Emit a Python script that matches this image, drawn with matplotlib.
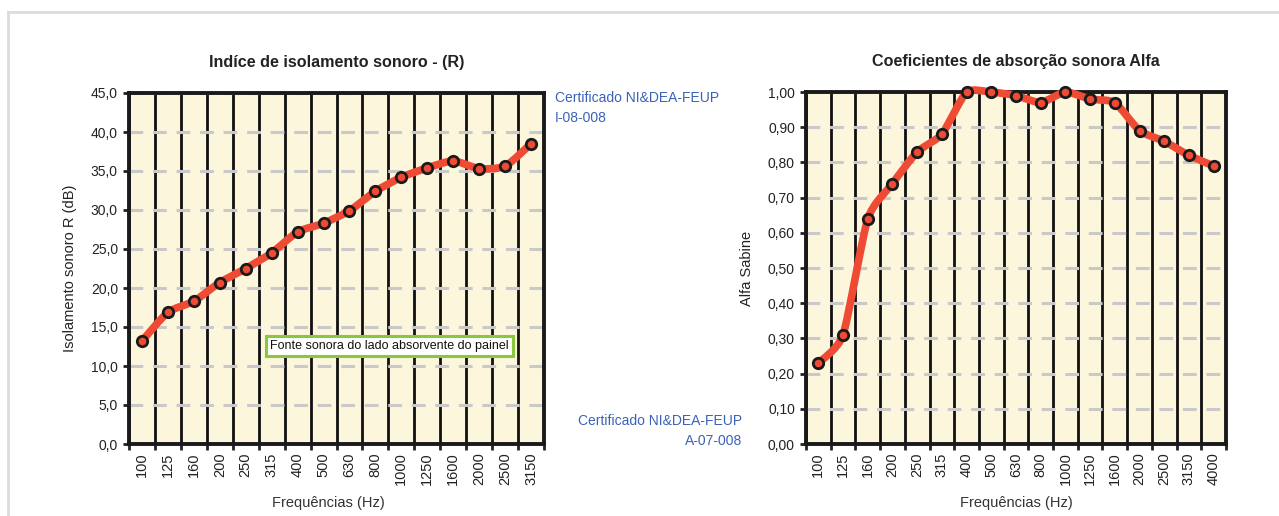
import matplotlib
matplotlib.use("Agg")
import matplotlib.pyplot as plt
from matplotlib.path import Path
from matplotlib.patches import PathPatch
from matplotlib.lines import Line2D
from matplotlib import font_manager as fm

# ---------------- data ----------------
freq_r = ["100", "125", "160", "200", "250", "315", "400", "500", "630", "800",
          "1000", "1250", "1600", "2000", "2500", "3150"]
r_values = [13.2, 16.9, 18.3, 20.7, 22.5, 24.5, 27.2, 28.3, 29.9, 32.4,
            34.2, 35.4, 36.3, 35.3, 35.6, 38.5]
r_ticks = [0, 5, 10, 15, 20, 25, 30, 35, 40, 45]
r_ticklabels = ["0,0", "5,0", "10,0", "15,0", "20,0", "25,0", "30,0", "35,0", "40,0", "45,0"]

freq_a = ["100", "125", "160", "200", "250", "315", "400", "500", "630", "800",
          "1000", "1250", "1600", "2000", "2500", "3150", "4000"]
a_values = [0.23, 0.31, 0.64, 0.74, 0.83, 0.88, 1.00, 1.00, 0.99, 0.97,
            1.00, 0.98, 0.97, 0.89, 0.86, 0.82, 0.79]
a_ticks = [0.0, 0.1, 0.2, 0.3, 0.4, 0.5, 0.6, 0.7, 0.8, 0.9, 1.0]
a_ticklabels = ["0,00", "0,10", "0,20", "0,30", "0,40", "0,50", "0,60", "0,70",
                "0,80", "0,90", "1,00"]

title_r = "Indíce de isolamento sonoro - (R)"
title_a = "Coeficientes de absorção sonora Alfa"
ylabel_r = "Isolamento sonoro R (dB)"
ylabel_a = "Alfa Sabine"
xlabel = "Frequências (Hz)"
note_r = "Fonte sonora do lado absorvente do painel"
cert_r = "Certificado NI&DEA-FEUP\nI-08-008"
cert_a = "Certificado NI&DEA-FEUP\nA-07-008"

# ---------------- style ----------------
names = {f.name for f in fm.fontManager.ttflist}
narrow = "Liberation Sans Narrow" if "Liberation Sans Narrow" in names else "Liberation Sans"
plt.rcParams["font.family"] = ["Liberation Sans", "DejaVu Sans"]

BG = "#fbf6dc"
RED = "#ef4a34"
GRID = "#c9c9c9"
BLUE = "#3a62b8"
TXT = "#222222"

W, H = 1279, 516
fig = plt.figure(figsize=(W / 100, H / 100), dpi=100)
fig.patch.set_facecolor("white")

# outer light frame
fig.add_artist(Line2D([8 / W, 1.0], [1 - 12 / H, 1 - 12 / H], transform=fig.transFigure,
                      color="#dcdcd8", lw=2))
fig.add_artist(Line2D([8 / W, 8 / W], [0, 1 - 12 / H], transform=fig.transFigure,
                      color="#dcdcd8", lw=2))


def smooth_path(xs, ys, k=0.1):
    verts = [(xs[0], ys[0])]
    codes = [Path.MOVETO]
    n = len(xs)
    for i in range(n - 1):
        p0 = (xs[max(i - 1, 0)], ys[max(i - 1, 0)])
        p1 = (xs[i], ys[i])
        p2 = (xs[i + 1], ys[i + 1])
        p3 = (xs[min(i + 2, n - 1)], ys[min(i + 2, n - 1)])
        c1 = (p1[0] + (p2[0] - p0[0]) * k, p1[1] + (p2[1] - p0[1]) * k)
        c2 = (p2[0] - (p3[0] - p1[0]) * k, p2[1] - (p3[1] - p1[1]) * k)
        verts += [c1, c2, p2]
        codes += [Path.CURVE4] * 3
    return Path(verts, codes)


def make_axes(rect_px, cats, vals, yticks, ylabels, ymax, title, ylabel):
    l, t, r, b = rect_px
    ax = fig.add_axes([l / W, 1 - b / H, (r - l) / W, (b - t) / H])
    ax.set_facecolor(BG)
    n = len(cats)
    xs = list(range(n))
    ax.set_xlim(-0.5, n - 0.5)
    ax.set_ylim(0, ymax)
    ax.set_yticks(yticks)
    ax.set_yticklabels(ylabels)
    ax.yaxis.grid(True, color=GRID, lw=2.2, ls=(0, (4.5, 3.2)))
    ax.set_xticks(xs)
    ax.set_xticklabels(cats, rotation=90)
    ax.set_xticks([i + 0.5 for i in range(-1, n)], minor=True)
    ax.xaxis.grid(True, which="minor", color="#111111", lw=2.0)
    ax.set_axisbelow(True)
    ax.tick_params(axis="x", which="major", length=0, pad=6, labelsize=10.5, labelcolor=TXT)
    ax.tick_params(axis="x", which="minor", length=4, width=2, direction="out", color="#222222")
    ax.tick_params(axis="y", length=4, width=2, direction="out", color="#222222",
                   labelsize=10, labelcolor=TXT, pad=4)
    for s in ax.spines.values():
        s.set_linewidth(2.8)
        s.set_color("#1a1a1a")
    path = smooth_path(xs, vals)
    ax.add_patch(PathPatch(path, fill=False, edgecolor=RED, lw=5.5, capstyle="round",
                           joinstyle="round", zorder=3, clip_on=False))
    ax.plot(xs, vals, ls="none", marker="o", ms=7.5, mfc=RED, mec="#1a1a1a", mew=2.0,
            zorder=4, clip_on=False)
    ax.set_title(title, fontsize=11.6, fontweight="bold", family=[narrow, "DejaVu Sans"],
                 color=TXT, pad=19)
    ax.set_ylabel(ylabel, fontsize=10.5, color=TXT, labelpad=10)
    ax.set_xlabel(xlabel, fontsize=10.5, color="#333333", family=[narrow, "DejaVu Sans"],
                  labelpad=8)
    return ax


ax1 = make_axes((129, 93, 544, 444), freq_r, r_values, r_ticks, r_ticklabels, 45,
                title_r, ylabel_r)
ax2 = make_axes((806, 92, 1226, 444), freq_a, a_values, a_ticks, a_ticklabels, 1.0,
                title_a, ylabel_a)
ax1.xaxis.label.set_position((0.48, 0))

ax1.text(0.34, 0.279, note_r, transform=ax1.transAxes, fontsize=9,
         family=[narrow, "DejaVu Sans"], color="#111111", ha="left", va="center",
         bbox=dict(boxstyle="square,pad=0.35", fc="white", ec="#8cc63e", lw=2.2), zorder=5)

fig.text(555 / W, 1 - 108 / H, cert_r, fontsize=10, color=BLUE, ha="left", va="center",
         linespacing=1.5)
fig.text(742 / W, 1 - 431 / H, cert_a, fontsize=10, color=BLUE, ha="right", va="center",
         linespacing=1.5, multialignment="right")

fig.savefig("out.png", dpi=100)
